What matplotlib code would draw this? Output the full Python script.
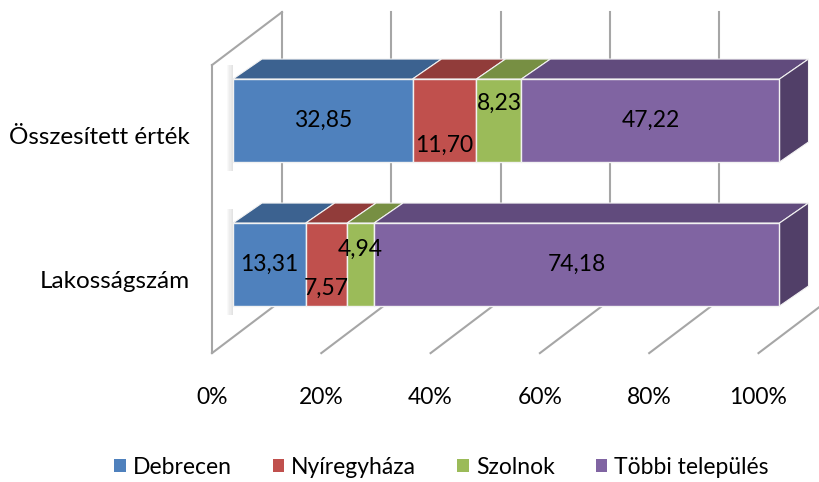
import matplotlib
matplotlib.use("Agg")
import matplotlib.pyplot as plt
from matplotlib.patches import Polygon, Patch, Rectangle
import numpy as np

plt.rcParams['font.family'] = ['Lato', 'DejaVu Sans']

# data
categories = ["Lakosságszám", "Összesített érték"]
series = ["Debrecen", "Nyíregyháza", "Szolnok", "Többi település"]
values = {
    "Debrecen":        [13.31, 32.85],
    "Nyíregyháza":     [7.57, 11.70],
    "Szolnok":         [4.94, 8.23],
    "Többi település": [74.18, 47.22],
}
ticks = [0, 20, 40, 60, 80, 100]
tick_labels = ["0%", "20%", "40%", "60%", "80%", "100%"]

front_cols = ["#4F81BD", "#C0504D", "#9BBB59", "#8064A2"]
top_cols = ["#3C6290", "#913C3A", "#778F43", "#614B7D"]
side_col = "#513F68"
grid_col = "#A6A6A6"

# label nudges (Excel moves overlapping labels up/down)
label_dy = {
    "Debrecen":        [0.0, 0.0],
    "Nyíregyháza":     [-0.165, -0.17],
    "Szolnok":         [0.105, 0.12],
    "Többi település": [0.0, 0.0],
}

# 3d geometry (in data units)
depth = (12.81, 0.368)      # full floor depth
bar_shift = (3.84, 0.0)     # front face offset from front plane
bar_depth = (5.31, 0.139)   # top/side face offset
bar_h = 0.576
y_floor, y_top = -0.615, 1.385

fig = plt.figure(figsize=(8.19, 4.82), dpi=100)
ax = fig.add_axes([0, 0, 1, 1])
ax.set_xlim(-38.79, 111.07)
ax.set_ylim(-1.51, 1.837)
ax.axis('off')

# walls and grid
for t in ticks:
    ax.plot([t + depth[0]] * 2, [y_floor + depth[1], y_top + depth[1]],
            color=grid_col, lw=1.5, zorder=1)
    ax.plot([t, t + depth[0]], [y_floor, y_floor + depth[1]],
            color=grid_col, lw=1.5, zorder=1)
ax.plot([0, 0], [y_floor, y_top], color=grid_col, lw=1.5, zorder=1)
ax.plot([0, depth[0]], [y_top, y_top + depth[1]], color=grid_col, lw=1.5, zorder=1)

ypos = np.arange(len(categories))
left = np.zeros(len(categories))
for i, s in enumerate(series):
    w = np.array(values[s])
    x0 = left + bar_shift[0]
    ax.barh(ypos, w, left=x0, height=bar_h, color=front_cols[i],
            edgecolor="#F2F2F2", lw=1.0, zorder=4)
    for j in range(len(categories)):
        yt = ypos[j] + bar_h / 2
        top = [(x0[j], yt), (x0[j] + w[j], yt),
               (x0[j] + w[j] + bar_depth[0], yt + bar_depth[1]),
               (x0[j] + bar_depth[0], yt + bar_depth[1])]
        ax.add_patch(Polygon(top, closed=True, fc=top_cols[i],
                             ec="#F2F2F2", lw=0.8, zorder=3))
        if i == len(series) - 1:
            xr = x0[j] + w[j]
            yb = ypos[j] - bar_h / 2
            side = [(xr, yb), (xr, yt), (xr + bar_depth[0], yt + bar_depth[1]),
                    (xr + bar_depth[0], yb + bar_depth[1])]
            ax.add_patch(Polygon(side, closed=True, fc=side_col,
                                 ec="#F2F2F2", lw=0.8, zorder=3))
        if i == 0:
            # soft shadow on the left of the bar
            for k in range(5):
                sw = 0.22 * (k + 1)
                ax.add_patch(Rectangle((x0[j] - sw, ypos[j] - bar_h / 2 - 0.06),
                                       sw, bar_h + 0.16, fc="#7F7F7F",
                                       ec="none", alpha=0.045, zorder=2))
        lab = f"{w[j]:.2f}".replace(".", ",")
        ax.text(x0[j] + w[j] / 2, ypos[j] + label_dy[s][j], lab,
                ha="center", va="center", fontsize=16.5, color="black", zorder=6)
    left = left + w

for j, c in enumerate(categories):
    ax.text(-4.0, ypos[j] - 0.118, c, ha="right", va="center", fontsize=17.5)

for t, tl in zip(ticks, tick_labels):
    ax.text(t, -0.92, tl, ha="center", va="center", fontsize=16.5)

handles = [Patch(fc=front_cols[i], ec="none") for i in range(len(series))]
fig.legend(handles, series, loc="center", bbox_to_anchor=(0.539, 0.03),
           ncol=4, frameon=False, fontsize=16.5, handlelength=0.5,
           handleheight=0.5, handletextpad=0.3, columnspacing=1.8)

fig.savefig("out.png", dpi=100)
